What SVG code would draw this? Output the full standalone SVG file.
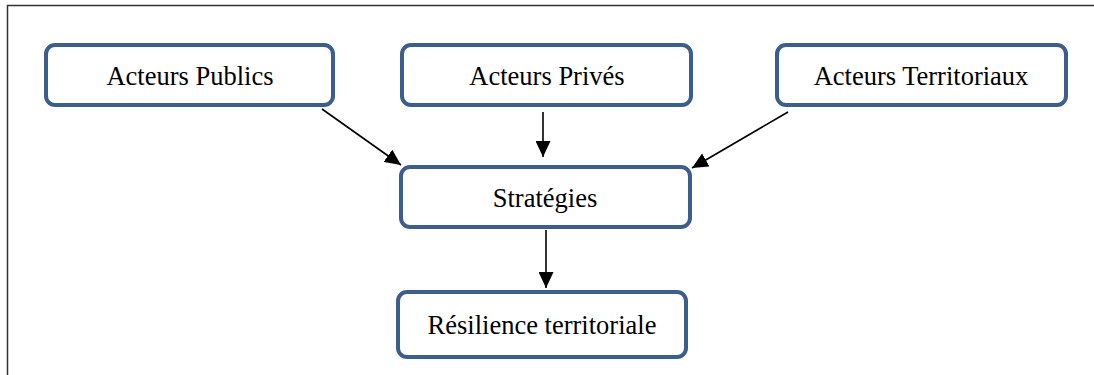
<svg xmlns="http://www.w3.org/2000/svg" width="1094" height="375" viewBox="0 0 1094 375">
<style>
.box{fill:#fff;stroke:#3b5e8c;stroke-width:4}
.lbl{font-family:"Liberation Serif","Times New Roman",serif;font-size:26.5px;fill:#000;text-anchor:middle}
.con{stroke:#000;stroke-width:1.6;fill:none;marker-end:url(#ah)}
</style>
<defs>
<marker id="ah" markerUnits="userSpaceOnUse" markerWidth="17" markerHeight="15" refX="16" refY="7.5" orient="auto">
<path d="M0,0 L16,7.5 L0,15 Z" fill="#000"/>
</marker>
</defs>
<rect x="0" y="0" width="1094" height="375" fill="#fff"/>
<path d="M7.5,375 V5.5 H1094" stroke="#333" stroke-width="1.5" fill="none"/>
<g id="connectors">
<line class="con" x1="322" y1="109" x2="401" y2="165"/>
<line class="con" x1="543" y1="112" x2="543" y2="157"/>
<line class="con" x1="788" y1="112" x2="692" y2="168"/>
<line class="con" x1="546" y1="230" x2="546" y2="288"/>
</g>
<g id="n_publics">
<rect class="box" x="46" y="45" width="287" height="60" rx="9"/>
<text class="lbl" x="190" y="85">Acteurs Publics</text>
</g>
<g id="n_prives">
<rect class="box" x="402" y="45" width="289" height="60" rx="9"/>
<text class="lbl" x="547" y="85">Acteurs Privés</text>
</g>
<g id="n_territoriaux">
<rect class="box" x="777" y="45" width="289" height="60" rx="9"/>
<text class="lbl" x="921" y="85">Acteurs Territoriaux</text>
</g>
<g id="n_strategies">
<rect class="box" x="401" y="167" width="289" height="60" rx="9"/>
<text class="lbl" x="545" y="207">Stratégies</text>
</g>
<g id="n_resilience">
<rect class="box" x="398" y="292" width="288" height="65" rx="9"/>
<text class="lbl" x="542" y="334">Résilience territoriale</text>
</g>
</svg>
